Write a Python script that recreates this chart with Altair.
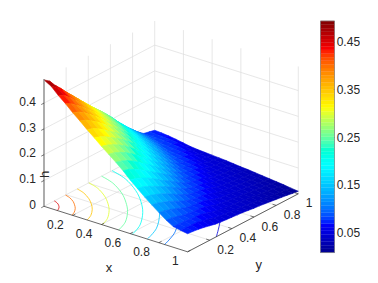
import altair as alt
import pandas as pd

# ---- values ----
GRID = [round(i * 0.05, 2) for i in range(21)]
# upper triangle of the symmetric surface h(x_i, y_j), j >= i
H_ROWS = [
 [.490,.474,.447,.424,.398,.375,.350,.327,.303,.281,.259,.235,.208,.184,.160,.138,.117,.097,.080,.075,.070],
 [.458,.437,.413,.390,.367,.343,.320,.297,.276,.253,.229,.202,.179,.155,.134,.113,.094,.079,.074,.068],
 [.418,.396,.376,.353,.331,.309,.287,.266,.243,.218,.193,.170,.147,.126,.106,.088,.078,.073,.065],
 [.379,.358,.338,.316,.295,.275,.254,.230,.205,.182,.159,.138,.117,.098,.081,.076,.071,.061],
 [.340,.320,.299,.281,.261,.239,.215,.191,.169,.146,.127,.107,.089,.078,.073,.067,.056],
 [.301,.284,.265,.244,.222,.198,.176,.154,.135,.115,.096,.080,.075,.071,.061,.051],
 [.266,.247,.225,.203,.182,.160,.138,.122,.102,.086,.077,.073,.065,.056,.048],
 [.227,.205,.185,.165,.145,.126,.108,.091,.079,.074,.069,.059,.050,.046],
 [.186,.166,.147,.130,.111,.094,.080,.075,.071,.062,.053,.048,.044],
 [.148,.131,.114,.097,.082,.076,.072,.065,.055,.049,.045,.042],
 [.114,.098,.084,.077,.073,.067,.057,.049,.046,.043,.040],
 [.084,.077,.073,.068,.059,.050,.047,.044,.040,.037],
 [.073,.068,.060,.051,.047,.044,.041,.038,.034],
 [.060,.052,.048,.045,.041,.038,.035,.032],
 [.048,.045,.042,.039,.035,.032,.029],
 [.042,.039,.036,.032,.029,.026],
 [.036,.033,.029,.026,.023],
 [.030,.026,.023,.020],
 [.023,.020,.017],
 [.017,.013],
 [.010],
]
CONTOURS = {
 .45: [(.093,0),(.086,.019),(.073,.041),(.058,.058),(.041,.073),(.019,.086),(0,.093)],
 .40: [(.194,0),(.18,.04),(.152,.085),(.12,.12),(.085,.152),(.04,.18),(0,.194)],
 .35: [(.3,0),(.279,.061),(.235,.131),(.186,.186),(.131,.235),(.061,.279),(0,.3)],
 .30: [(.405,0),(.377,.083),(.317,.177),(.251,.251),(.177,.317),(.083,.377),(0,.405)],
 .25: [(.52,0),(.484,.106),(.407,.227),(.322,.322),(.227,.407),(.106,.484),(0,.52)],
 .20: [(.615,0),(.572,.125),(.481,.268),(.381,.381),(.268,.481),(.125,.572),(0,.615)],
 .15: [(.72,0),(.67,.147),(.563,.314),(.446,.446),(.314,.563),(.147,.67),(0,.72)],
 .10: [(.84,0),(.781,.171),(.657,.366),(.521,.521),(.366,.657),(.171,.781),(0,.84)],
 .05: [(1,.26),(.9,.42),(.8,.55),(.65,.71),(.55,.8),(.42,.9),(.26,1)],
}
XY_TICKS = [0.2, 0.4, 0.6, 0.8, 1]
H_TICKS = [0, 0.1, 0.2, 0.3, 0.4]
CB_TICKS = [0.05, 0.1, 0.15, 0.2, 0.25, 0.3, 0.35, 0.4, 0.45]
H_MIN, H_MAX = 0.008, 0.4935

FONT = "Liberation Sans"
TEXT = "#262626"
JET_DOMAIN = [H_MIN + (H_MAX - H_MIN) * t for t in (0, .125, .375, .625, .875, 1)]
JET_RANGE = ["#00008f", "#0000ff", "#00ffff", "#ffff00", "#ff0000", "#800000"]
jet = alt.Scale(domain=JET_DOMAIN, range=JET_RANGE, clamp=True)

# ---- 3-D view (orthographic) as a calculate transform ----
def proj(ch, xf, yf, hf, sx, sy):
    return ch.transform_calculate(**{
        sx: f"44 + 143.6*datum.{xf} + 110.7*datum.{yf}",
        sy: f"206.3 + 45.5*datum.{xf} - 58*datum.{yf} - 258*datum.{hf}",
    })

sx_scale = alt.Scale(domain=[8, 313], nice=False, zero=False)
sy_scale = alt.Scale(domain=[275, 8], nice=False, zero=False)
X = lambda f: alt.X(f + ":Q", scale=sx_scale, axis=None)
Y = lambda f: alt.Y(f + ":Q", scale=sy_scale, axis=None)

def segments(rows, **mark):
    df = pd.DataFrame(rows, columns=["x0", "y0", "h0", "x1", "y1", "h1"])
    c = alt.Chart(df).mark_rule(**mark)
    c = proj(c, "x0", "y0", "h0", "a", "b")
    c = proj(c, "x1", "y1", "h1", "c", "d")
    return c.encode(x=X("a"), y=Y("b"), x2="c:Q", y2="d:Q")

# grid on floor and the two back walls
grid_rows = []
for t in XY_TICKS:
    grid_rows += [(t, 0, 0, t, 1, 0), (0, t, 0, 1, t, 0),
                  (0, t, 0, 0, t, H_MAX), (t, 1, 0, t, 1, H_MAX)]
for z in H_TICKS:
    grid_rows += [(0, 0, z, 0, 1, z), (0, 1, z, 1, 1, z)]
grid = segments(grid_rows, color="#dcdcdc", strokeWidth=0.7)

# contours on the floor
rows = []
for lev, pts in CONTOURS.items():
    for k, (a, b) in enumerate(pts):
        rows.append(dict(level=lev, k=k, x=a, y=b, z=0))
cont = proj(alt.Chart(pd.DataFrame(rows)).mark_line(strokeWidth=0.8, interpolate="cardinal"),
            "x", "y", "z", "a", "b").encode(
    x=X("a"), y=Y("b"), detail="level:N", order="k:Q",
    stroke=alt.Stroke("level:Q", scale=jet, legend=None))

# surface: one filled quad per grid cell, far to near
n = len(GRID)
H = [[0.0] * n for _ in range(n)]
for i, row in enumerate(H_ROWS):
    for j, v in enumerate(row):
        H[i][i + j] = v
        H[i + j][i] = v
cells = sorted(((i, j) for i in range(n - 1) for j in range(n - 1)), key=lambda c: c[0] - c[1])
rows = []
for cid, (i, j) in enumerate(cells):
    corners = [(i, j), (i + 1, j), (i + 1, j + 1), (i, j + 1), (i, j)]
    mean = sum(H[a][b] for a, b in corners[:4]) / 4
    for k, (a, b) in enumerate(corners):
        rows.append(dict(cell=cid, k=k, x=GRID[a], y=GRID[b], z=H[a][b], m=mean))
alt.data_transformers.disable_max_rows()
surf = proj(alt.Chart(pd.DataFrame(rows)).mark_line(strokeWidth=0.6, interpolate="linear"),
            "x", "y", "z", "a", "b").encode(
    x=X("a"), y=Y("b"), detail="cell:N", order="k:Q",
    fill=alt.Fill("m:Q", scale=jet, legend=None),
    stroke=alt.Stroke("m:Q", scale=jet, legend=None))

# axes
ax_xy = segments([(0, 0, 0, 1, 0, 0), (1, 0, 0, 1, 1, 0)], color=TEXT, strokeWidth=0.7)
ax_h = segments([(0, 0, 0, 0, 0, H_MAX)], color="#808080", strokeWidth=1.3)
tick_rows = [(t, 0, 0, t, .025, 0) for t in XY_TICKS] + [(1, t, 0, .975, t, 0) for t in XY_TICKS] \
          + [(0, 0, z, 0, -.025, z) for z in H_TICKS]
ticks = segments(tick_rows, color=TEXT, strokeWidth=0.6)

def labels(values, xs, ys, zs, **mark):
    df = pd.DataFrame(dict(x=xs, y=ys, z=zs, t=values))
    c = alt.Chart(df).mark_text(font=FONT, color=TEXT, baseline="middle", **mark)
    return proj(c, "x", "y", "z", "a", "b").encode(x=X("a"), y=Y("b"), text="t:N")

fmt = lambda v: f"{v:g}"
s = [fmt(t) for t in XY_TICKS]
lx = labels(s, XY_TICKS, [0] * 5, [0] * 5, align="right", dx=-9, dy=9.5, fontSize=12)
ly = labels(s, [1] * 5, XY_TICKS, [0] * 5, align="left", dx=7.5, dy=9.5, fontSize=12)
lh = labels([fmt(t) for t in H_TICKS], [0] * 5, [0] * 5, H_TICKS, align="right", dx=-8, dy=-1.3, fontSize=12)
tx = labels(["x"], [.5], [0], [0], align="center", dx=-6.8, dy=39, fontSize=13)
ty = labels(["y"], [1], [.5], [0], align="center", dx=15.7, dy=42, fontSize=13)
th = labels(["h"], [0], [0], [.25], align="center", dx=-32.5, dy=1, fontSize=13, angle=270)

main = alt.layer(grid, cont, surf, ax_h, ax_xy, ticks, lx, ly, lh, tx, ty, th).properties(width=305, height=267)

# colour bar
N = 64
step = (H_MAX - H_MIN) / N
cb = pd.DataFrame(dict(lo=[H_MIN + i * step for i in range(N)],
                       hi=[H_MIN + (i + 1) * step for i in range(N)],
                       mid=[H_MIN + (i + .5) * step for i in range(N)]))
cb_y = alt.Scale(domain=[-0.0391, 0.5207], nice=False, zero=False)
bar = alt.Chart(cb).mark_rect(strokeWidth=0.3).encode(
    x=alt.value(0), x2=alt.value(14),
    y=alt.Y("lo:Q", scale=cb_y, title=None, axis=alt.Axis(
        orient="right", values=CB_TICKS, format=".2~f", domain=False, grid=False, offset=-2,
        tickSize=2, tickColor=TEXT, tickWidth=0.6, labelPadding=1.7, labelFont=FONT, labelFontSize=12,
        labelColor=TEXT)),
    y2="hi:Q",
    fill=alt.Fill("mid:Q", scale=jet, legend=None),
    stroke=alt.Stroke("mid:Q", scale=jet, legend=None))
frame = alt.Chart(pd.DataFrame(dict(lo=[H_MIN], hi=[H_MAX]))).mark_rect(
    fill="transparent", stroke="#808080", strokeWidth=0.7).encode(
    x=alt.value(0), x2=alt.value(14), y=alt.Y("lo:Q", scale=cb_y), y2="hi:Q")
colorbar = alt.layer(bar, frame).properties(width=14, height=267)

chart = alt.hconcat(main, colorbar, spacing=6.5).properties(padding=0).configure_view(stroke=None).configure(background="white") if False else \
    alt.hconcat(main, colorbar, spacing=6.5).properties(padding=0, background="white").configure_view(stroke=None)

chart.save("out.html", embed_options={"renderer": "svg", "actions": False})
